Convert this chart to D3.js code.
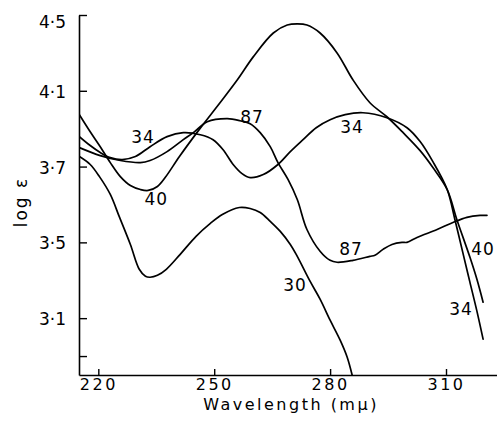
<!DOCTYPE html>
<html>
<head>
<meta charset="utf-8">
<script src="https://cdn.jsdelivr.net/npm/d3@7"></script>
<style>
  html, body { margin: 0; padding: 0; background: #fff; }
  svg { display: block; }
</style>
</head>
<body>
<svg id="chart" width="497" height="432"></svg>
<script>
// ---- data (wavelength in mμ, log ε) ----
const curve30 = [[215.1,3.753],[217.9,3.711],[220.3,3.647],[223.1,3.553],[225.4,3.437],[228.3,3.289],[230.6,3.158],[232.2,3.121],[233.4,3.116],[235.3,3.126],[237.6,3.158],[241.2,3.237],[245.3,3.332],[249.0,3.400],[252.1,3.447],[256.5,3.484],[259.3,3.479],[261.9,3.458],[264.5,3.411],[267.1,3.358],[269.7,3.289],[271.5,3.226],[274.8,3.095],[277.4,3.000],[280.0,2.889],[282.6,2.784],[284.4,2.695],[285.7,2.600]];
const curve34 = [[215.1,3.858],[217.9,3.811],[220.5,3.774],[223.1,3.747],[226.2,3.737],[229.6,3.753],[233.4,3.805],[237.8,3.858],[242.0,3.879],[246.4,3.868],[249.7,3.842],[252.3,3.789],[254.9,3.711],[257.2,3.663],[259.3,3.642],[262.7,3.658],[266.5,3.711],[269.7,3.779],[273.0,3.842],[276.4,3.905],[280.0,3.947],[283.9,3.974],[288.5,3.984],[294.7,3.958],[299.9,3.905],[303.3,3.832],[306.6,3.726],[310.3,3.579],[312.3,3.421],[314.4,3.242],[316.2,3.089],[318.0,2.937],[319.6,2.789]];
const curve40 = [[215.1,3.974],[217.9,3.884],[220.5,3.805],[223.1,3.721],[225.7,3.647],[228.3,3.600],[230.9,3.579],[232.9,3.574],[235.3,3.595],[237.3,3.642],[241.0,3.753],[246.1,3.895],[251.5,4.037],[256.0,4.158],[260.1,4.279],[265.3,4.405],[268.9,4.447],[271.5,4.453],[274.0,4.447],[277.4,4.405],[281.8,4.300],[285.9,4.158],[290.3,4.037],[294.7,3.963],[298.9,3.879],[303.3,3.784],[306.6,3.695],[310.3,3.579],[312.8,3.421],[316.2,3.221],[318.0,3.105],[319.6,2.984]];
const curve87 = [[215.1,3.800],[220.5,3.758],[225.7,3.732],[230.9,3.721],[233.4,3.732],[237.8,3.779],[242.0,3.842],[244.6,3.879],[248.2,3.937],[253.4,3.953],[256.7,3.942],[259.3,3.926],[261.9,3.879],[264.5,3.805],[266.5,3.721],[269.1,3.632],[271.5,3.526],[274.0,3.368],[277.4,3.253],[280.0,3.205],[281.8,3.195],[285.9,3.205],[290.3,3.226],[291.6,3.232],[293.7,3.263],[296.0,3.289],[298.6,3.300],[299.9,3.300],[302.5,3.326],[307.7,3.368],[311.8,3.405],[315.4,3.432],[318.8,3.442],[320.6,3.442]];

// curve labels
const labelText = ["34", "40", "87", "34", "87", "30", "40", "34"];
const labelNm   = [231.6, 235.0, 259.8, 285.7, 285.4, 270.9, 319.6, 313.9];
const labelLogE = [3.858, 3.532, 3.963, 3.911, 3.263, 3.074, 3.263, 2.947];

// axis ticks
const xTicks = [220, 250, 280, 310];
const yTicks = [4.5, 4.1, 3.7, 3.3, 2.9, 2.7];
const yTickLabels = ["4·5", "4·1", "3·7", "3·5", "3·1", ""];

const xDomain = [215, 323.2];
const yDomain = [2.6, 4.5];

// ---- layout ----
const W = 497, H = 432;
const plot = { left: 79, right: 497, top: 15, bottom: 375 };
const FONT = "'DejaVu Sans', sans-serif";

const svg = d3.select("#chart");
svg.append("rect").attr("width", W).attr("height", H).attr("fill", "#fff");

const x = d3.scaleLinear().domain(xDomain).range([plot.left, plot.right]);
const y = d3.scaleLinear().domain(yDomain).range([plot.bottom, plot.top]);

svg.append("clipPath").attr("id", "clip")
  .append("rect")
  .attr("x", plot.left).attr("y", plot.top)
  .attr("width", plot.right - plot.left).attr("height", plot.bottom - plot.top);

// curves
const line = d3.line()
  .x(d => x(d[0]))
  .y(d => y(d[1]))
  .curve(d3.curveCatmullRom.alpha(0.5));

const g = svg.append("g").attr("clip-path", "url(#clip)");
[curve30, curve34, curve40, curve87].forEach(c => {
  g.append("path")
    .datum(c)
    .attr("d", line)
    .attr("fill", "none")
    .attr("stroke", "#000")
    .attr("stroke-width", 1.7)
    .attr("stroke-linejoin", "round")
    .attr("stroke-linecap", "round");
});

// x axis
const xAxis = d3.axisBottom(x)
  .tickValues(xTicks)
  .tickFormat(d3.format("d"))
  .tickSizeInner(-6)
  .tickSizeOuter(0)
  .tickPadding(4);
const gx = svg.append("g")
  .attr("transform", `translate(0,${plot.bottom})`)
  .call(xAxis);
gx.select(".domain").attr("stroke-width", 1.6);
gx.selectAll(".tick line").attr("stroke-width", 1.4);
gx.selectAll(".tick text")
  .attr("font-family", FONT)
  .attr("font-size", 16)
  .attr("letter-spacing", "2.5px")
  .attr("fill", "#000");

// y axis
const yAxis = d3.axisLeft(y)
  .tickValues(yTicks)
  .tickFormat((d, i) => yTickLabels[i])
  .tickSizeInner(-8)
  .tickSizeOuter(0)
  .tickPadding(13);
const gy = svg.append("g")
  .attr("transform", `translate(${plot.left},0)`)
  .call(yAxis);
gy.select(".domain").attr("stroke-width", 1.6);
gy.selectAll(".tick line").attr("stroke-width", 1.4);
gy.selectAll(".tick text")
  .attr("font-family", FONT)
  .attr("font-size", 17)
  .attr("fill", "#000")
  .attr("dy", (d, i) => i === 0 ? "0.75em" : "0.38em");

// axis titles
svg.append("text")
  .attr("x", (plot.left + plot.right) / 2 + 3)
  .attr("y", 410)
  .attr("text-anchor", "middle")
  .attr("font-family", FONT)
  .attr("font-size", 16)
  .attr("letter-spacing", "2.5px")
  .attr("fill", "#000")
  .text("Wavelength (mμ)");

svg.append("text")
  .attr("transform", "translate(27,202) rotate(-90)")
  .attr("text-anchor", "middle")
  .attr("font-family", FONT)
  .attr("font-size", 17)
  .attr("letter-spacing", "2px")
  .attr("fill", "#000")
  .text("log ε");

// curve labels
svg.append("g").selectAll("text")
  .data(labelText)
  .join("text")
  .attr("x", (d, i) => x(labelNm[i]))
  .attr("y", (d, i) => y(labelLogE[i]))
  .attr("text-anchor", "middle")
  .attr("dy", "0.36em")
  .attr("font-family", FONT)
  .attr("font-size", 17)
  .attr("letter-spacing", "1px")
  .attr("fill", "#000")
  .text(d => d);
</script>
</body>
</html>
